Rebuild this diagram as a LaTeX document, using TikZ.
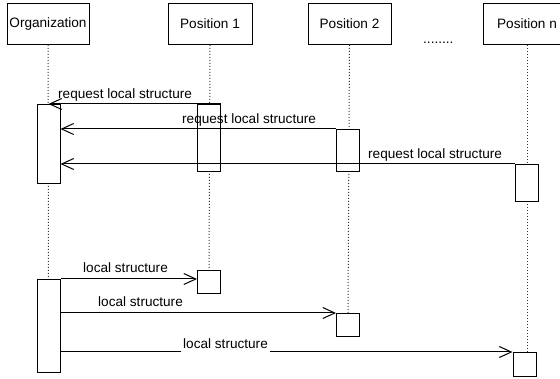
\documentclass[tikz,border=0pt]{standalone}
\usepackage{fontspec}
\setmainfont{Liberation Sans}
\usetikzlibrary{arrows.meta}

\tikzset{
  hdr/.style={draw, line width=1pt, fill=white, minimum height=41, inner sep=0pt,
    font=\fontsize{13.6}{16}\selectfont},
  act/.style={draw, line width=1pt, fill=white, minimum width=23, inner sep=0pt, anchor=north},
  life/.style={line width=1pt, dash pattern=on 1pt off 2pt, black!80},
  msg/.style={line width=1pt, -{Straight Barb[length=12pt,width=11pt,line width=1pt]}},
  lbl/.style={font=\fontsize{13.6}{16}\selectfont, inner sep=0pt, anchor=base west}
}

\begin{document}
\begin{tikzpicture}[x=1pt,y=-1pt]
\useasboundingbox (0,0) rectangle (560,379);
\clip (0,0) rectangle (560,379);

% heads
\node[hdr, minimum width=82] (org) at (48,24) {Organization};
\node[hdr, minimum width=84] (pos1) at (210,24) {Position 1};
\node[hdr, minimum width=83] (pos2) at (349.5,24) {Position 2};
\node[hdr, minimum width=88] (posn) at (527,24) {Position n};
\node[lbl] (dots) at (423,44) {........};

% life lines
\draw[life] (org.south) -- (48.5,279);
\draw[life] (pos1.south) -- (209,270);
\draw[life] (pos2.south) -- (348,313);
\draw[life] (posn.south) -- (527,352);

% activations
\node[act, minimum height=79] (oa1) at (48.5,104) {};
\node[act, minimum height=67] (pa1) at (209,104) {};
\node[act, minimum height=42] (qa1) at (348,129) {};
\node[act, minimum height=37] (na1) at (526.5,164) {};
\node[act, minimum height=93] (oa2) at (48.5,279) {};
\node[act, minimum height=23] (pb1) at (209,270) {};
\node[act, minimum height=23] (qb1) at (348,313) {};
\node[act, minimum height=24] (nb1) at (524.5,352) {};

% requests
\draw[msg] (pa1.north east) -- (oa1.north);
\draw[msg] (qa1.north west) -- (qa1.north west -| oa1.east);
\draw[msg] (na1.north west) -- (na1.north west -| oa1.east);
\node[lbl] (r1) at (58,99) {request local structure};
\node[lbl] (r2) at (182,124) {request local structure};
\node[lbl] (r3) at (368,159) {request local structure};

% replies
\draw[msg] (oa2.north east) -- (oa2.north east -| pb1.west);
\draw[msg] (oa2.east |- qb1.north) -- (qb1.north west);
\draw[msg] (oa2.east |- nb1.north) -- (nb1.north west);
\node[lbl] (s1) at (83,273) {local structure};
\node[lbl] (s2) at (98,307) {local structure};
\node[lbl, fill=white, inner xsep=2pt, inner ysep=3pt] (s3) at (181,349) {local structure};

\end{tikzpicture}
\end{document}
